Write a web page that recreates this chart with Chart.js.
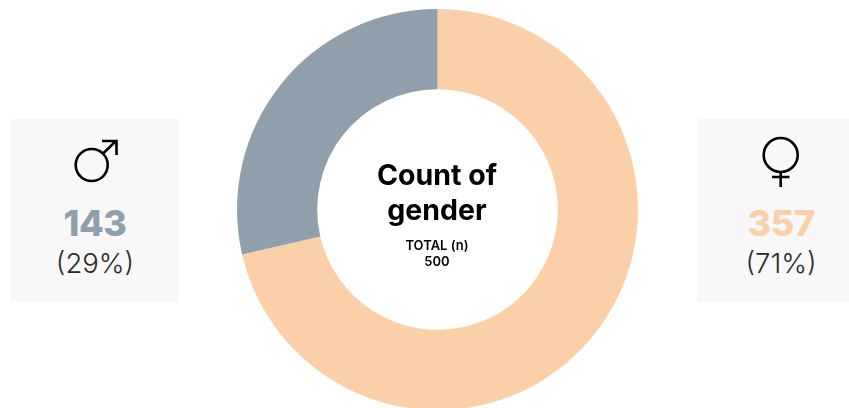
<!DOCTYPE html>
<html><head><meta charset="utf-8">
<style>
html,body{margin:0;padding:0;background:#fff;width:849px;height:408px;overflow:hidden;font-family:Inter,"Open Sans",sans-serif}
#wrap{position:absolute;left:237px;top:9px;width:401px;height:401px}
.panel{position:absolute;top:119px;width:168px;height:183px;background:#f8f8f8;text-align:center}
.panel svg{position:absolute;left:0;top:0}
.num{position:absolute;left:0;right:0;top:83px;font-size:36px;line-height:42px;font-weight:800;letter-spacing:-.5px}
.pct{position:absolute;left:0;right:0;top:127px;font-size:27.5px;line-height:34px;font-weight:300;color:#2b2b2b}
#center{position:absolute;left:337px;top:157px;width:200px;text-align:center;color:#000}
#title{font-size:28.5px;line-height:35px;font-weight:700}
#sub{font-size:13px;line-height:16px;font-weight:600;margin-top:10px}
</style></head><body>
<div id="wrap"><canvas id="c" width="401" height="401"></canvas></div>
<div class="panel" style="left:11px">
<svg width="168" height="90" fill="none" stroke="#000" stroke-width="2.6"><circle cx="80.7" cy="46" r="16"/><path d="M91.5 35 L105 22 M91 22 H105.5 V36"/></svg>
<div class="num" id="n0"></div><div class="pct" id="p0"></div></div>
<div class="panel" style="left:697px">
<svg width="168" height="90" fill="none" stroke="#000" stroke-width="2.6"><circle cx="83.7" cy="36" r="17"/><path d="M83.7 53 V68 M75 58 H92.5"/></svg>
<div class="num" id="n1"></div><div class="pct" id="p1"></div></div>
<div id="center"><div id="title"></div><div id="sub"></div></div>
<script src="https://cdn.jsdelivr.net/npm/chart.js@4"></script>
<script>
const categories=["Female","Male"];
const counts=[357,143];
const percents=["(71%)","(29%)"];
const colors=["#FBD0A9","#8F9FAC"];
const titleLines=["Count of","gender"];
const totalLabel="TOTAL (n)";
const total=500;
new Chart(document.getElementById("c"),{type:"doughnut",
data:{labels:categories,datasets:[{data:counts,backgroundColor:colors,borderWidth:0}]},
options:{responsive:false,animation:false,cutout:"60%",layout:{padding:0},
plugins:{legend:{display:false},tooltip:{enabled:false}}}});
document.getElementById("n0").textContent=counts[1];
document.getElementById("n0").style.color=colors[1];
document.getElementById("p0").textContent=percents[1];
document.getElementById("n1").textContent=counts[0];
document.getElementById("n1").style.color=colors[0];
document.getElementById("p1").textContent=percents[0];
document.getElementById("title").innerHTML=titleLines.join("<br>");
document.getElementById("sub").innerHTML=totalLabel+"<br>"+total;
</script>
</body></html>
